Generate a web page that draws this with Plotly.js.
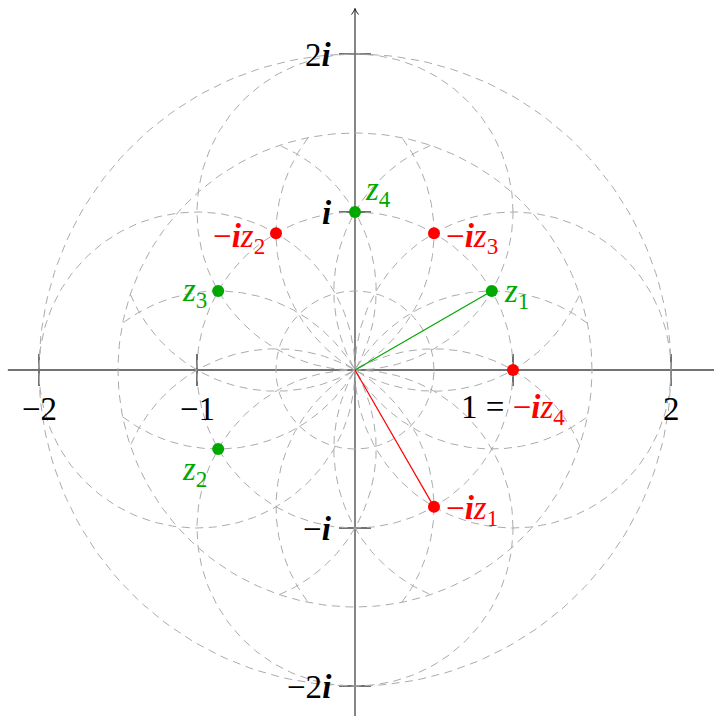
<!DOCTYPE html>
<html><head><meta charset="utf-8">
<script src="https://cdn.plot.ly/plotly-3.0.1.min.js"></script>
<style>html,body{margin:0;padding:0;background:#fff}#chart{width:714px;height:716px}</style>
</head><body><div id="chart"></div>
<script>
// ---- data ----
const ringRadii = [0.5, 1, 1.5, 2];                       // circles centred at 0
const fullPetalAngles = [0, 90, 180, 270];                 // unit circles centred at 1, i, -1, -i
const clippedPetalAngles = [30, 60, 120, 150, 210, 240, 300, 330];
const petalRadius = 1;
const clipRadius = 1.5;
const zNames = ['1', '2', '3', '4'];
const zRe = [0.866, -0.866, -0.866, 0];
const zIm = [0.5, -0.5, 0.5, 1];
const rotRe = [0.5, -0.5, 0.5, 1];      // -i z_k
const rotIm = [-0.866, 0.866, 0.866, 0];
const xTickVals = [-2, -1, 1, 2];
const xTickText = ['−2', '−1', '1', '2'];
const yTickVals = [2, 1, -1, -2];
const yTickText = ['2<b><i>i</i></b>', '<b><i>i</i></b>', '−<b><i>i</i></b>', '−2<b><i>i</i></b>'];

// ---- drawing ----
const GREEN = '#00a800', RED = '#ff0000', GREY = '#ababab';
const FONT = "'Times New Roman', 'Liberation Serif', Times, serif";
const FS = 33;
const DASHSTYLE = {color:GREY, width:1, dash:'8px,5.5px'};
const traces = [];
function arcTrace(cx, cy, r, a0, a1) {
  const n = 240, xs = [], ys = [];
  for (let j = 0; j <= n; j++) {
    const t = a0 + (a1 - a0) * j / n;
    xs.push(cx + r * Math.cos(t)); ys.push(cy + r * Math.sin(t));
  }
  return {x:xs, y:ys, mode:'lines', line:DASHSTYLE, hoverinfo:'skip'};
}
ringRadii.forEach(r => traces.push(arcTrace(0, 0, r, 0, 2*Math.PI)));
fullPetalAngles.forEach(a => {
  const th = a*Math.PI/180;
  traces.push(arcTrace(Math.cos(th), Math.sin(th), petalRadius, 0, 2*Math.PI));
});
// petals clipped to the disc of radius clipRadius
const alpha = Math.acos((clipRadius*clipRadius - 1 - petalRadius*petalRadius) / (2*petalRadius));
clippedPetalAngles.forEach(a => {
  const th = a*Math.PI/180;
  traces.push(arcTrace(Math.cos(th), Math.sin(th), petalRadius, th + alpha, th + 2*Math.PI - alpha));
});
traces.push({x:[0, zRe[0]], y:[0, zIm[0]], mode:'lines', line:{color:GREEN, width:1.2}, hoverinfo:'skip'});
traces.push({x:[0, rotRe[0]], y:[0, rotIm[0]], mode:'lines', line:{color:RED, width:1.2}, hoverinfo:'skip'});
traces.push({x:zRe, y:zIm, mode:'markers', marker:{color:GREEN, size:12}, hoverinfo:'skip'});
traces.push({x:rotRe, y:rotIm, mode:'markers', marker:{color:RED, size:12}, hoverinfo:'skip'});

const shapes = [];
shapes.push({type:'line', xref:'paper', yref:'y', x0:0.011, x1:1, y0:0, y1:0, line:{color:'#444', width:1.6}, layer:'below'});
shapes.push({type:'line', xref:'x', yref:'paper', x0:0, x1:0, y0:0, y1:0.988, line:{color:'#222', width:1.1}, layer:'below'});
shapes.push({type:'path', xref:'x', yref:'paper', xsizemode:'pixel', ysizemode:'pixel', xanchor:0, yanchor:0.988,
  path:'M-3.5,-6 Q-0.5,-2 0,0 Q0.5,-2 3.5,-6', line:{color:'#222', width:1}, layer:'below'});
xTickVals.forEach(v => shapes.push({type:'line', xref:'x', yref:'y', ysizemode:'pixel', yanchor:0, x0:v, x1:v, y0:-16, y1:16,
  line:{color:'#111', width:1.2}, layer:'below'}));
yTickVals.forEach(v => shapes.push({type:'line', xref:'x', yref:'y', xsizemode:'pixel', xanchor:0, y0:v, y1:v, x0:-16, x1:16,
  line:{color:'#111', width:1.2}, layer:'below'}));

const ann = [];
xTickVals.forEach((v, i) => {
  let t = xTickText[i];
  if (v === 1) t = '1 = <span style="color:' + RED + '">−<b><i>i</i></b><i>z</i><sub>4</sub></span>';
  ann.push({x:v, y:0, xref:'x', yref:'y', text:t, showarrow:false, yshift:-39, font:{family:FONT, size:FS, color:'#000'}});
});
yTickVals.forEach((v, i) => ann.push({x:0, y:v, xref:'x', yref:'y', text:yTickText[i], showarrow:false, xanchor:'right', xshift:-21, yshift:-1,
  font:{family:FONT, size:FS, color:'#000'}}));
const zLab = (k) => '<i>z</i><sub>' + zNames[k] + '</sub>';
const rLab = (k) => '−<b><i>i</i></b><i>z</i><sub>' + zNames[k] + '</sub>';
const zPos = [{xa:'left', dx:10, dy:-2}, {xa:'right', dx:-9, dy:-22}, {xa:'right', dx:-9, dy:-1}, {xa:'left', dx:8, dy:21}];
const rPos = [{xa:'left', dx:10, dy:-4}, {xa:'right', dx:-9, dy:-5}, {xa:'left', dx:10, dy:-5}, null];
for (let k = 0; k < 4; k++) {
  ann.push({x:zRe[k], y:zIm[k], xref:'x', yref:'y', text:zLab(k), showarrow:false, xanchor:zPos[k].xa,
    xshift:zPos[k].dx, yshift:zPos[k].dy, font:{family:FONT, size:FS, color:GREEN}});
  if (rPos[k]) ann.push({x:rotRe[k], y:rotIm[k], xref:'x', yref:'y', text:rLab(k), showarrow:false, xanchor:rPos[k].xa,
    xshift:rPos[k].dx, yshift:rPos[k].dy, font:{family:FONT, size:FS, color:RED}});
}

const layout = {
  width:714, height:716, margin:{l:0, r:0, t:0, b:0}, paper_bgcolor:'#fff', plot_bgcolor:'#fff', showlegend:false,
  xaxis:{range:[-355/158, 359/158], visible:false, fixedrange:true},
  yaxis:{range:[-346/158, 370/158], visible:false, fixedrange:true},
  shapes:shapes, annotations:ann
};
Plotly.newPlot('chart', traces, layout, {displayModeBar:false});
</script></body></html>
